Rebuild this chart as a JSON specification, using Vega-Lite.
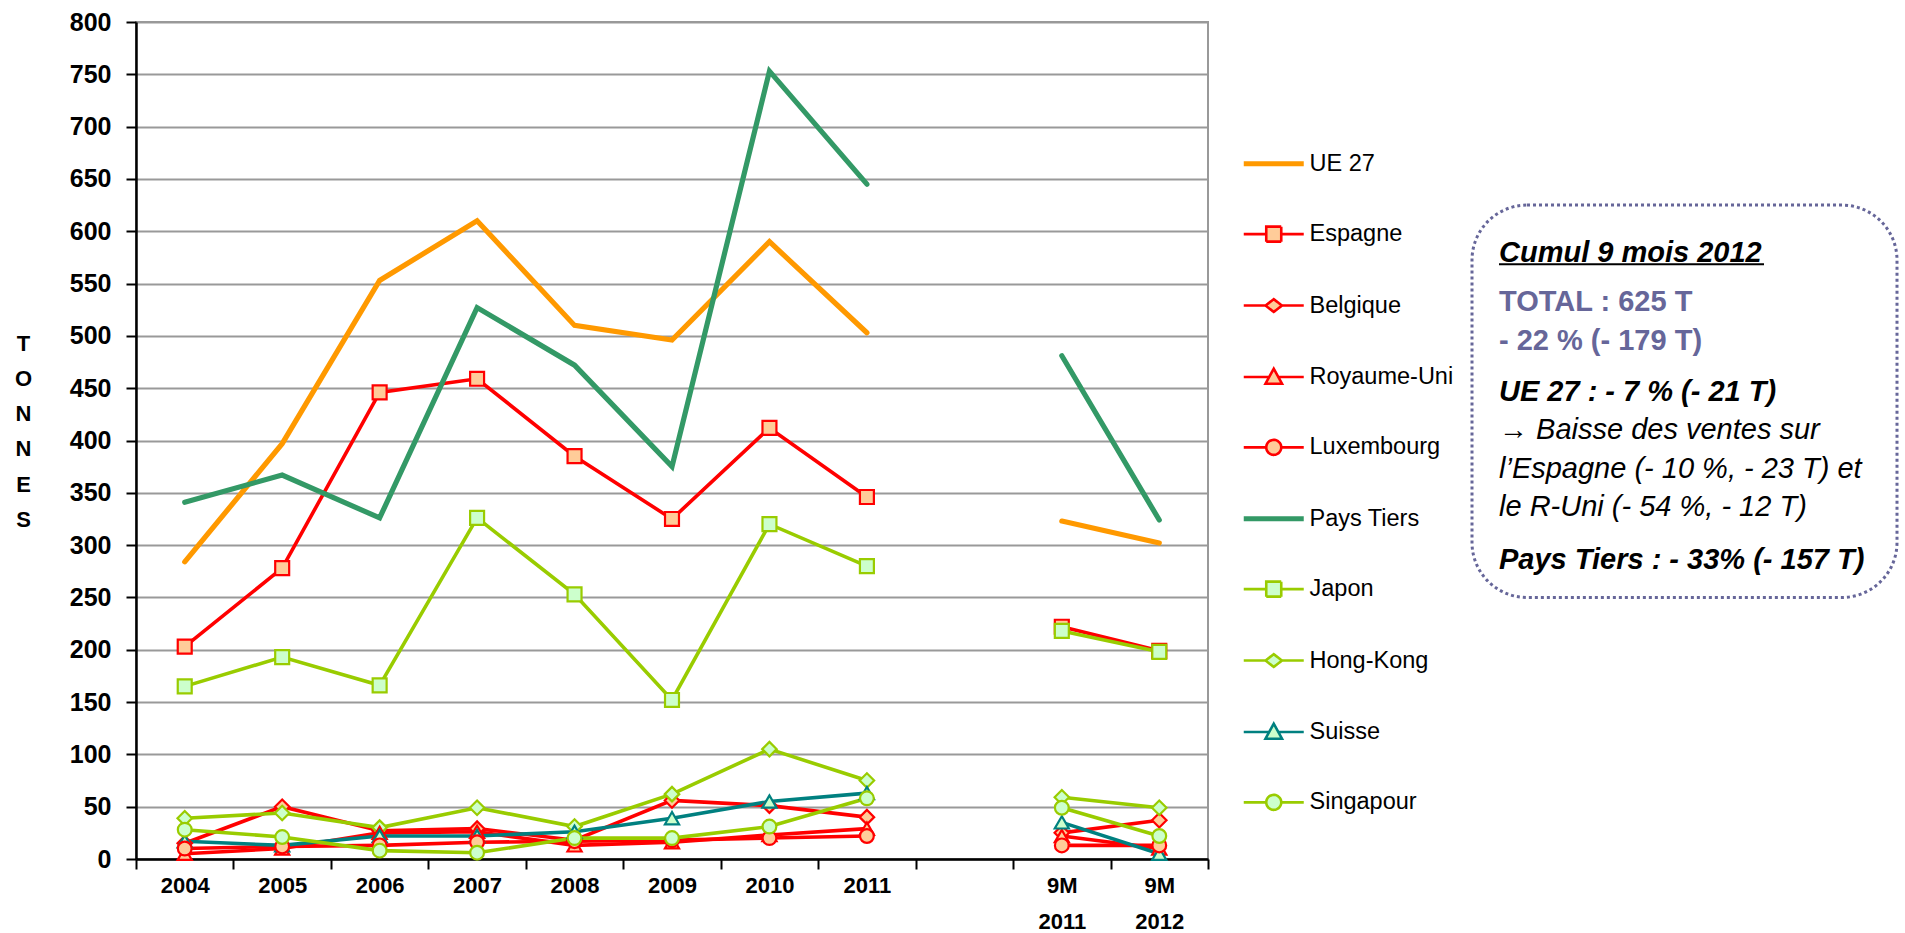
{
  "$schema": "https://vega.github.io/schema/vega-lite/v6.json",
  "background": "white",
  "padding": {"left": 13, "top": 9, "right": 2, "bottom": 2},
  "config": {
    "font": "Liberation Sans",
    "view": {"stroke": null},
    "concat": {"spacing": 260}
  },
  "datasets": {
    "tonnes": [
      {"serie": "UE 27", "periode": "2004", "groupe": "annee", "tonnes": 284},
      {"serie": "UE 27", "periode": "2005", "groupe": "annee", "tonnes": 397},
      {"serie": "UE 27", "periode": "2006", "groupe": "annee", "tonnes": 553},
      {"serie": "UE 27", "periode": "2007", "groupe": "annee", "tonnes": 610},
      {"serie": "UE 27", "periode": "2008", "groupe": "annee", "tonnes": 510},
      {"serie": "UE 27", "periode": "2009", "groupe": "annee", "tonnes": 496},
      {"serie": "UE 27", "periode": "2010", "groupe": "annee", "tonnes": 590},
      {"serie": "UE 27", "periode": "2011", "groupe": "annee", "tonnes": 503},
      {"serie": "UE 27", "periode": "9M 2011", "groupe": "9 mois", "tonnes": 323},
      {"serie": "UE 27", "periode": "9M 2012", "groupe": "9 mois", "tonnes": 302},
      {"serie": "Espagne", "periode": "2004", "groupe": "annee", "tonnes": 203},
      {"serie": "Espagne", "periode": "2005", "groupe": "annee", "tonnes": 278},
      {"serie": "Espagne", "periode": "2006", "groupe": "annee", "tonnes": 446},
      {"serie": "Espagne", "periode": "2007", "groupe": "annee", "tonnes": 459},
      {"serie": "Espagne", "periode": "2008", "groupe": "annee", "tonnes": 385},
      {"serie": "Espagne", "periode": "2009", "groupe": "annee", "tonnes": 325},
      {"serie": "Espagne", "periode": "2010", "groupe": "annee", "tonnes": 412},
      {"serie": "Espagne", "periode": "2011", "groupe": "annee", "tonnes": 346},
      {"serie": "Espagne", "periode": "9M 2011", "groupe": "9 mois", "tonnes": 222},
      {"serie": "Espagne", "periode": "9M 2012", "groupe": "9 mois", "tonnes": 199},
      {"serie": "Belgique", "periode": "2004", "groupe": "annee", "tonnes": 15},
      {"serie": "Belgique", "periode": "2005", "groupe": "annee", "tonnes": 50},
      {"serie": "Belgique", "periode": "2006", "groupe": "annee", "tonnes": 27},
      {"serie": "Belgique", "periode": "2007", "groupe": "annee", "tonnes": 29},
      {"serie": "Belgique", "periode": "2008", "groupe": "annee", "tonnes": 18},
      {"serie": "Belgique", "periode": "2009", "groupe": "annee", "tonnes": 56},
      {"serie": "Belgique", "periode": "2010", "groupe": "annee", "tonnes": 51},
      {"serie": "Belgique", "periode": "2011", "groupe": "annee", "tonnes": 40},
      {"serie": "Belgique", "periode": "9M 2011", "groupe": "9 mois", "tonnes": 25},
      {"serie": "Belgique", "periode": "9M 2012", "groupe": "9 mois", "tonnes": 37},
      {"serie": "Royaume-Uni", "periode": "2004", "groupe": "annee", "tonnes": 5},
      {"serie": "Royaume-Uni", "periode": "2005", "groupe": "annee", "tonnes": 10},
      {"serie": "Royaume-Uni", "periode": "2006", "groupe": "annee", "tonnes": 25},
      {"serie": "Royaume-Uni", "periode": "2007", "groupe": "annee", "tonnes": 26},
      {"serie": "Royaume-Uni", "periode": "2008", "groupe": "annee", "tonnes": 13},
      {"serie": "Royaume-Uni", "periode": "2009", "groupe": "annee", "tonnes": 16},
      {"serie": "Royaume-Uni", "periode": "2010", "groupe": "annee", "tonnes": 23},
      {"serie": "Royaume-Uni", "periode": "2011", "groupe": "annee", "tonnes": 29},
      {"serie": "Royaume-Uni", "periode": "9M 2011", "groupe": "9 mois", "tonnes": 22},
      {"serie": "Royaume-Uni", "periode": "9M 2012", "groupe": "9 mois", "tonnes": 10},
      {"serie": "Luxembourg", "periode": "2004", "groupe": "annee", "tonnes": 10},
      {"serie": "Luxembourg", "periode": "2005", "groupe": "annee", "tonnes": 12},
      {"serie": "Luxembourg", "periode": "2006", "groupe": "annee", "tonnes": 13},
      {"serie": "Luxembourg", "periode": "2007", "groupe": "annee", "tonnes": 16},
      {"serie": "Luxembourg", "periode": "2008", "groupe": "annee", "tonnes": 17},
      {"serie": "Luxembourg", "periode": "2009", "groupe": "annee", "tonnes": 18},
      {"serie": "Luxembourg", "periode": "2010", "groupe": "annee", "tonnes": 20},
      {"serie": "Luxembourg", "periode": "2011", "groupe": "annee", "tonnes": 22},
      {"serie": "Luxembourg", "periode": "9M 2011", "groupe": "9 mois", "tonnes": 13},
      {"serie": "Luxembourg", "periode": "9M 2012", "groupe": "9 mois", "tonnes": 13},
      {"serie": "Pays Tiers", "periode": "2004", "groupe": "annee", "tonnes": 341},
      {"serie": "Pays Tiers", "periode": "2005", "groupe": "annee", "tonnes": 367},
      {"serie": "Pays Tiers", "periode": "2006", "groupe": "annee", "tonnes": 326},
      {"serie": "Pays Tiers", "periode": "2007", "groupe": "annee", "tonnes": 527},
      {"serie": "Pays Tiers", "periode": "2008", "groupe": "annee", "tonnes": 472},
      {"serie": "Pays Tiers", "periode": "2009", "groupe": "annee", "tonnes": 375},
      {"serie": "Pays Tiers", "periode": "2010", "groupe": "annee", "tonnes": 753},
      {"serie": "Pays Tiers", "periode": "2011", "groupe": "annee", "tonnes": 645},
      {"serie": "Pays Tiers", "periode": "9M 2011", "groupe": "9 mois", "tonnes": 481},
      {"serie": "Pays Tiers", "periode": "9M 2012", "groupe": "9 mois", "tonnes": 324},
      {"serie": "Japon", "periode": "2004", "groupe": "annee", "tonnes": 165},
      {"serie": "Japon", "periode": "2005", "groupe": "annee", "tonnes": 193},
      {"serie": "Japon", "periode": "2006", "groupe": "annee", "tonnes": 166},
      {"serie": "Japon", "periode": "2007", "groupe": "annee", "tonnes": 326},
      {"serie": "Japon", "periode": "2008", "groupe": "annee", "tonnes": 253},
      {"serie": "Japon", "periode": "2009", "groupe": "annee", "tonnes": 152},
      {"serie": "Japon", "periode": "2010", "groupe": "annee", "tonnes": 320},
      {"serie": "Japon", "periode": "2011", "groupe": "annee", "tonnes": 280},
      {"serie": "Japon", "periode": "9M 2011", "groupe": "9 mois", "tonnes": 218},
      {"serie": "Japon", "periode": "9M 2012", "groupe": "9 mois", "tonnes": 198},
      {"serie": "Hong-Kong", "periode": "2004", "groupe": "annee", "tonnes": 39},
      {"serie": "Hong-Kong", "periode": "2005", "groupe": "annee", "tonnes": 44},
      {"serie": "Hong-Kong", "periode": "2006", "groupe": "annee", "tonnes": 30},
      {"serie": "Hong-Kong", "periode": "2007", "groupe": "annee", "tonnes": 49},
      {"serie": "Hong-Kong", "periode": "2008", "groupe": "annee", "tonnes": 31},
      {"serie": "Hong-Kong", "periode": "2009", "groupe": "annee", "tonnes": 62},
      {"serie": "Hong-Kong", "periode": "2010", "groupe": "annee", "tonnes": 105},
      {"serie": "Hong-Kong", "periode": "2011", "groupe": "annee", "tonnes": 75},
      {"serie": "Hong-Kong", "periode": "9M 2011", "groupe": "9 mois", "tonnes": 59},
      {"serie": "Hong-Kong", "periode": "9M 2012", "groupe": "9 mois", "tonnes": 49},
      {"serie": "Suisse", "periode": "2004", "groupe": "annee", "tonnes": 17},
      {"serie": "Suisse", "periode": "2005", "groupe": "annee", "tonnes": 13},
      {"serie": "Suisse", "periode": "2006", "groupe": "annee", "tonnes": 22},
      {"serie": "Suisse", "periode": "2007", "groupe": "annee", "tonnes": 22},
      {"serie": "Suisse", "periode": "2008", "groupe": "annee", "tonnes": 26},
      {"serie": "Suisse", "periode": "2009", "groupe": "annee", "tonnes": 39},
      {"serie": "Suisse", "periode": "2010", "groupe": "annee", "tonnes": 55},
      {"serie": "Suisse", "periode": "2011", "groupe": "annee", "tonnes": 63},
      {"serie": "Suisse", "periode": "9M 2011", "groupe": "9 mois", "tonnes": 35},
      {"serie": "Suisse", "periode": "9M 2012", "groupe": "9 mois", "tonnes": 5},
      {"serie": "Singapour", "periode": "2004", "groupe": "annee", "tonnes": 28},
      {"serie": "Singapour", "periode": "2005", "groupe": "annee", "tonnes": 21},
      {"serie": "Singapour", "periode": "2006", "groupe": "annee", "tonnes": 8},
      {"serie": "Singapour", "periode": "2007", "groupe": "annee", "tonnes": 6},
      {"serie": "Singapour", "periode": "2008", "groupe": "annee", "tonnes": 20},
      {"serie": "Singapour", "periode": "2009", "groupe": "annee", "tonnes": 20},
      {"serie": "Singapour", "periode": "2010", "groupe": "annee", "tonnes": 31},
      {"serie": "Singapour", "periode": "2011", "groupe": "annee", "tonnes": 58},
      {"serie": "Singapour", "periode": "9M 2011", "groupe": "9 mois", "tonnes": 49},
      {"serie": "Singapour", "periode": "9M 2012", "groupe": "9 mois", "tonnes": 22}
    ],
    "encadre": [
      {"bloc": "titre", "ligne": "Cumul 9 mois 2012"},
      {"bloc": "total", "ligne": "TOTAL : 625 T\n- 22 % (- 179 T)"},
      {"bloc": "ue", "ligne": "UE 27 : - 7 % (- 21 T)"},
      {"bloc": "corps", "ligne": "→ Baisse des ventes sur\nl’Espagne (- 10 %, - 23 T) et\nle R-Uni (- 54 %, - 12 T)"},
      {"bloc": "pt", "ligne": "Pays Tiers : - 33% (- 157 T)"}
    ]
  },
  "hconcat": [
    {
      "width": 1072,
      "height": 837,
      "view": {"stroke": "#999999", "strokeWidth": 2},
      "data": {"name": "tonnes"},
      "encoding": {
        "x": {
          "field": "periode",
          "type": "nominal",
          "scale": {
            "type": "band",
            "domain": ["2004", "2005", "2006", "2007", "2008", "2009", "2010", "2011", " ", "9M 2011", "9M 2012"],
            "paddingInner": 0,
            "paddingOuter": 0
          },
          "axis": {
            "title": null,
            "labelAngle": 0,
            "labelExpr": "(isString(datum.value) && datum.value != ' ') ? split(datum.value, ' ') : ''",
            "labelFont": "Liberation Sans",
            "labelFontSize": 22,
            "labelFontWeight": "bold",
            "labelColor": "black",
            "labelLineHeight": 36,
            "labelPadding": 6,
            "labelBaseline": "top",
            "tickBand": "extent",
            "tickSize": 10,
            "tickWidth": 2,
            "tickColor": "black",
            "domainColor": "black",
            "domainWidth": 2.5,
            "grid": false
          }
        },
        "y": {
          "field": "tonnes",
          "type": "quantitative",
          "scale": {"domain": [0, 800], "nice": false},
          "axis": {
            "values": [0, 50, 100, 150, 200, 250, 300, 350, 400, 450, 500, 550, 600, 650, 700, 750, 800],
            "title": ["T", "O", "N", "N", "E", "S"],
            "titleAngle": 0,
            "titleFont": "Liberation Sans",
            "titleFontSize": 22,
            "titleFontWeight": "bold",
            "titleColor": "black",
            "titleLineHeight": 35.3,
            "titleAlign": "center",
            "titleBaseline": "middle",
            "titleX": -113,
            "titleY": 321,
            "labelFont": "Liberation Sans",
            "labelFontSize": 25,
            "labelFontWeight": "bold",
            "labelColor": "black",
            "labelPadding": 15,
            "tickSize": 10,
            "tickWidth": 2,
            "tickColor": "black",
            "domainColor": "black",
            "domainWidth": 2.5,
            "grid": true,
            "gridColor": "#999999",
            "gridWidth": 2
          }
        },
        "color": {
          "field": "serie",
          "type": "nominal",
          "scale": {
            "domain": ["UE 27", "Espagne", "Belgique", "Royaume-Uni", "Luxembourg", "Pays Tiers", "Japon", "Hong-Kong", "Suisse", "Singapour"],
            "range": ["#FF9900", "#FF0000", "#FF0000", "#FF0000", "#FF0000", "#339966", "#99CC00", "#99CC00", "#008080", "#99CC00"]
          },
          "legend": {
            "title": null,
            "orient": "none",
            "legendX": 1126,
            "legendY": 130,
            "padding": 0,
            "symbolSize": 225,
            "symbolStrokeWidth": 2.5,
            "labelFont": "Liberation Sans",
            "labelFontSize": 23.5,
            "labelColor": "black",
            "labelOffset": 24,
            "labelLimit": 300,
            "rowPadding": 45.4,
            "encode": {
              "symbols": {
                "update": {
                  "shape": {"signal": "(datum.value == 'UE 27' || datum.value == 'Pays Tiers') ? 'M-4,0L4,0' : (datum.value == 'Espagne' || datum.value == 'Japon') ? 'M-4,0L-1,0M1,0L4,0M-1,-1L1,-1L1,1L-1,1Z' : (datum.value == 'Belgique' || datum.value == 'Hong-Kong') ? 'M-4,0L-1.1,0M1.1,0L4,0M-1.1,0L0,-0.85L1.1,0L0,0.85Z' : (datum.value == 'Royaume-Uni' || datum.value == 'Suisse') ? 'M-4,0L-0.6,0M0.6,0L4,0M0,-1.1L1.1,0.9L-1.1,0.9Z' : 'M-4,0L-1,0M1,0L4,0M1,0C1,0.55,0.55,1,0,1C-0.55,1,-1,0.55,-1,0C-1,-0.55,-0.55,-1,0,-1C0.55,-1,1,-0.55,1,0Z'"},
                  "fill": {"signal": "indexof(['Espagne','Belgique','Royaume-Uni','Luxembourg'], datum.value) >= 0 ? '#FFCC99' : '#CCFFCC'"},
                  "strokeWidth": {"signal": "(datum.value == 'UE 27' || datum.value == 'Pays Tiers') ? 5.2 : 2.6"},
                  "strokeDash": {"value": [1, 0]},
                  "opacity": {"value": 1}
                }
              }
            }
          }
        }
      },
      "layer": [
        {
          "transform": [{"filter": "datum.serie != 'UE 27' && datum.serie != 'Pays Tiers'"}],
          "mark": {"type": "line", "strokeWidth": 3.6, "strokeJoin": "miter"},
          "encoding": {
            "detail": {"field": "groupe", "type": "nominal"}
          }
        },
        {
          "transform": [{"filter": "datum.serie == 'UE 27' || datum.serie == 'Pays Tiers'"}],
          "mark": {"type": "line", "strokeWidth": 5.2, "strokeCap": "round", "strokeJoin": "miter"},
          "encoding": {
            "detail": {"field": "groupe", "type": "nominal"}
          }
        },
        {
          "transform": [{"filter": "datum.serie == 'Espagne' || datum.serie == 'Japon'"}],
          "mark": {"type": "point", "shape": "square", "filled": false, "opacity": 1, "size": 195, "strokeWidth": 2.2},
          "encoding": {
            "fill": {"condition": {"test": "datum.serie == 'Espagne'", "value": "#FFCC99"}, "value": "#CCFFCC"}
          }
        },
        {
          "transform": [{"filter": "datum.serie == 'Belgique' || datum.serie == 'Hong-Kong'"}],
          "mark": {"type": "point", "shape": "diamond", "filled": false, "opacity": 1, "size": 210, "strokeWidth": 2.2},
          "encoding": {
            "fill": {"condition": {"test": "datum.serie == 'Belgique'", "value": "#FFCC99"}, "value": "#CCFFCC"}
          }
        },
        {
          "transform": [{"filter": "datum.serie == 'Royaume-Uni' || datum.serie == 'Suisse'"}],
          "mark": {"type": "point", "shape": "triangle-up", "filled": false, "opacity": 1, "size": 200, "strokeWidth": 2.2},
          "encoding": {
            "fill": {"condition": {"test": "datum.serie == 'Royaume-Uni'", "value": "#FFCC99"}, "value": "#CCFFCC"}
          }
        },
        {
          "transform": [{"filter": "datum.serie == 'Luxembourg' || datum.serie == 'Singapour'"}],
          "mark": {"type": "point", "shape": "circle", "filled": false, "opacity": 1, "size": 190, "strokeWidth": 2.2},
          "encoding": {
            "fill": {"condition": {"test": "datum.serie == 'Luxembourg'", "value": "#FFCC99"}, "value": "#CCFFCC"}
          }
        }
      ]
    },
    {
      "width": 425,
      "height": 837,
      "view": {"stroke": null},
      "data": {"name": "encadre"},
      "layer": [
        {
          "transform": [{"filter": "datum.bloc == 'titre'"}],
          "mark": {"type": "rect", "cornerRadius": 55, "fill": "transparent", "stroke": "#666699", "strokeWidth": 3, "strokeDash": [3, 3]},
          "encoding": {
            "x": {"datum": 0, "type": "quantitative", "scale": {"domain": [0, 425], "nice": false}, "axis": null},
            "x2": {"datum": 425},
            "y": {"datum": 625, "type": "quantitative", "scale": {"domain": [0, 800], "nice": false}, "axis": null},
            "y2": {"datum": 250}
          }
        },
        {
          "transform": [{"filter": "datum.bloc == 'titre'"}],
          "mark": {"type": "rule", "color": "black", "strokeWidth": 2},
          "encoding": {
            "x": {"datum": 27, "type": "quantitative"},
            "x2": {"datum": 292},
            "y": {"datum": 568.5, "type": "quantitative"}
          }
        },
        {
          "transform": [{"filter": "datum.bloc == 'titre'"}],
          "mark": {"type": "text", "font": "Liberation Sans", "fontSize": 29, "fontWeight": "bold", "fontStyle": "italic", "align": "left", "baseline": "alphabetic", "color": "black"},
          "encoding": {
            "x": {"datum": 27, "type": "quantitative"},
            "y": {"datum": 571, "type": "quantitative"},
            "text": {"field": "ligne"}
          }
        },
        {
          "transform": [{"filter": "datum.bloc == 'total'"}],
          "mark": {"type": "text", "font": "Liberation Sans", "fontSize": 29, "fontWeight": "bold", "align": "left", "baseline": "alphabetic", "color": "#666699", "lineBreak": "\n", "lineHeight": 38.5},
          "encoding": {
            "x": {"datum": 27, "type": "quantitative"},
            "y": {"datum": 523.5, "type": "quantitative"},
            "text": {"field": "ligne"}
          }
        },
        {
          "transform": [{"filter": "datum.bloc == 'ue'"}],
          "mark": {"type": "text", "font": "Liberation Sans", "fontSize": 29, "fontWeight": "bold", "fontStyle": "italic", "align": "left", "baseline": "alphabetic", "color": "black"},
          "encoding": {
            "x": {"datum": 27, "type": "quantitative"},
            "y": {"datum": 438, "type": "quantitative"},
            "text": {"field": "ligne"}
          }
        },
        {
          "transform": [{"filter": "datum.bloc == 'corps'"}],
          "mark": {"type": "text", "font": "Liberation Sans", "fontSize": 29, "fontStyle": "italic", "align": "left", "baseline": "alphabetic", "color": "black", "lineBreak": "\n", "lineHeight": 38.5},
          "encoding": {
            "x": {"datum": 27, "type": "quantitative"},
            "y": {"datum": 401, "type": "quantitative"},
            "text": {"field": "ligne"}
          }
        },
        {
          "transform": [{"filter": "datum.bloc == 'pt'"}],
          "mark": {"type": "text", "font": "Liberation Sans", "fontSize": 29, "fontWeight": "bold", "fontStyle": "italic", "align": "left", "baseline": "alphabetic", "color": "black"},
          "encoding": {
            "x": {"datum": 27, "type": "quantitative"},
            "y": {"datum": 277, "type": "quantitative"},
            "text": {"field": "ligne"}
          }
        }
      ]
    }
  ]
}
